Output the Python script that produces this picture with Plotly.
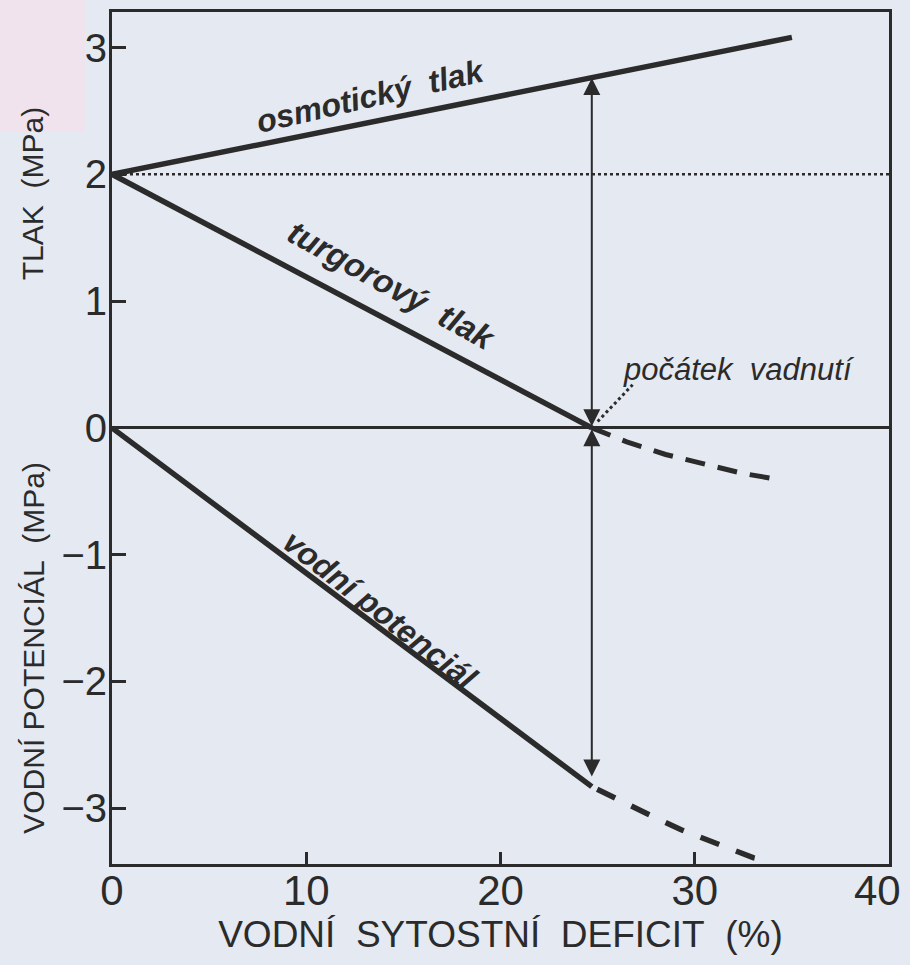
import plotly.graph_objects as go

# ---- data ----
osm_x = [0, 35.0]
osm_y = [2.0, 3.08]

turg_x = [0, 24.7]
turg_y = [2.0, 0.0]

turg_dash_x = [24.7, 26.5, 28.5, 30.5, 32.5, 34.4]
turg_dash_y = [0.0, -0.11, -0.21, -0.29, -0.36, -0.41]

wp_x = [0, 24.7]
wp_y = [0.0, -2.83]

wp_dash_x = [24.7, 25.6, 27.5, 29.3, 31.2, 33.0, 33.6]
wp_dash_y = [-2.83, -2.90, -3.04, -3.17, -3.28, -3.39, -3.41]

wilt_x = 24.7
osm_at_wilt = 2.76
wp_at_wilt = -2.75
pointer_x = [25.0, 26.8]
pointer_y = [0.05, 0.34]
ref_level = 2.0

x_ticks = [0, 10, 20, 30, 40]
x_tick_labels = ["0", "10", "20", "30", "40\u00a0\u00a0"]
y_ticks = [-3, -2, -1, 0, 1, 2, 3]

INK = "#2b2b2b"
BG = "#e5e9f1"
FONT = "Liberation Sans"

fig = go.Figure()

def line(x, y, width=5.5, dash="solid"):
    fig.add_trace(go.Scatter(x=x, y=y, mode="lines",
                             line=dict(color=INK, width=width, dash=dash),
                             hoverinfo="skip", showlegend=False))

line(osm_x, osm_y)
line(turg_x, turg_y)
line(turg_dash_x, turg_dash_y, width=5, dash="20px,13px")
line(wp_x, wp_y)
line(wp_dash_x, wp_dash_y, width=5.5, dash="0px,6px,20px,12px")
line(pointer_x, pointer_y, width=3, dash="dot")

# reference dotted line at y=2
fig.add_shape(type="line", xref="paper", yref="y", x0=0, x1=1, y0=ref_level, y1=ref_level,
              line=dict(color=INK, width=2.5, dash="dot"))

# pinkish patch of the scan (top-left)
fig.add_shape(type="rect", xref="paper", yref="paper", x0=-0.145, x1=-0.035, y0=0.86, y1=1.02,
              fillcolor="#f0e3ed", line=dict(width=0), layer="below")

# double arrows
for y_end in (osm_at_wilt, wp_at_wilt):
    fig.add_annotation(x=wilt_x, y=y_end, ax=wilt_x, ay=0, xref="x", yref="y",
                       axref="x", ayref="y", text="", showarrow=True,
                       arrowhead=2, startarrowhead=2, arrowside="end+start",
                       arrowsize=1.7, startarrowsize=1.7, arrowwidth=2, arrowcolor=INK)

# curve labels
lab_font = dict(family=FONT, size=32, color=INK)
fig.add_annotation(x=13.3, y=2.62, text="<b><i>osmotický\u00a0\u00a0tlak</i></b>", showarrow=False,
                   textangle=-13, font=lab_font)
fig.add_annotation(x=14.4, y=1.12, text="<b><i>turgorový\u00a0\u00a0tlak</i></b>", showarrow=False,
                   textangle=29, font=dict(family=FONT, size=33, color=INK))
fig.add_annotation(x=13.8, y=-1.44, text="<b><i>vodní\u00a0potenciál</i></b>", showarrow=False,
                   textangle=38, font=lab_font)
fig.add_annotation(x=32.3, y=0.46, text="<i>počátek\u00a0\u00a0vadnutí</i>", showarrow=False,
                   font=dict(family=FONT, size=31, color=INK))

# y axis titles
ytitle_font = dict(family=FONT, size=30, color=INK)
fig.add_annotation(xref="paper", yref="paper", x=-0.102, y=0.787, text="TLAK\u00a0\u00a0(MPa)",
                   xanchor="center", yanchor="middle",
                   textangle=-90, showarrow=False, font=ytitle_font)
fig.add_annotation(xref="paper", yref="paper", x=-0.102, y=0.2535,
                   text="VODNÍ\u00a0POTENCIÁL\u00a0\u00a0(MPa)",
                   xanchor="center", yanchor="middle",
                   textangle=-90, showarrow=False, font=ytitle_font)

fig.update_layout(
    width=910, height=965,
    margin=dict(l=112, r=21, t=12, b=101),
    paper_bgcolor=BG, plot_bgcolor=BG,
    showlegend=False,
    xaxis=dict(range=[0, 40], tickvals=x_ticks, ticktext=x_tick_labels,
               ticks="inside", ticklen=12, tickwidth=3,
               tickcolor=INK, showline=True, linewidth=3, linecolor=INK, mirror=True,
               showgrid=False, zeroline=False, ticklabeloverflow="allow", automargin=False,
               ticklabelstandoff=-12,
               tickfont=dict(family=FONT, size=42, color=INK),
               title=dict(text="VODNÍ\u00a0\u00a0SYTOSTNÍ\u00a0\u00a0DEFICIT\u00a0\u00a0(%)",
                          font=dict(family=FONT, size=37, color=INK), standoff=6)),
    yaxis=dict(range=[-3.44, 3.28], tickvals=y_ticks, ticks="inside", ticklen=14, tickwidth=3,
               tickcolor=INK, showline=True, linewidth=3, linecolor=INK, mirror=True,
               showgrid=False, zeroline=True, zerolinewidth=3, zerolinecolor=INK,
               ticklabelstandoff=-6, automargin=False,
               tickfont=dict(family=FONT, size=40, color=INK)),
)

fig.write_html("out.html", config={"displayModeBar": False},
               post_script="document.body.style.margin='0';document.body.style.background='%s';" % BG)
